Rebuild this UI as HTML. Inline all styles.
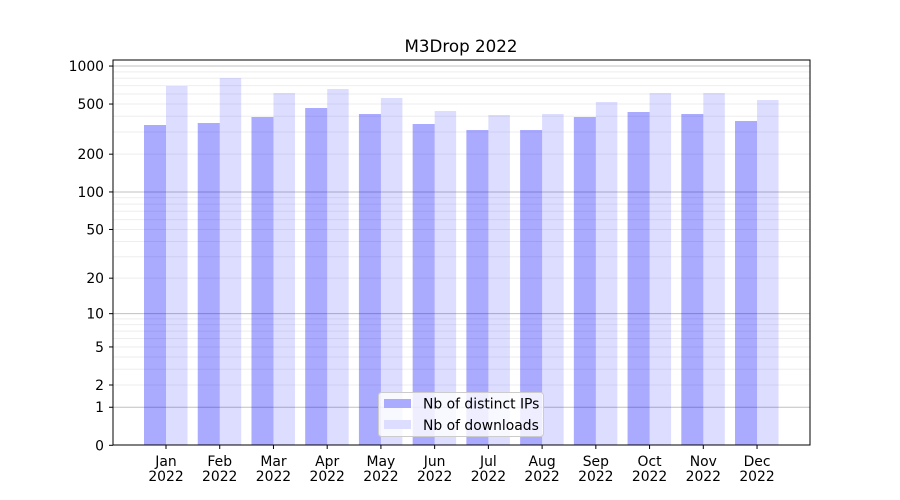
<!DOCTYPE html><html><head><meta charset="utf-8"><style>body{margin:0;background:#fff}svg{display:block;font-family:"DejaVu Sans","Liberation Sans",sans-serif}</style></head><body>
<svg id="s" width="900" height="500" xmlns="http://www.w3.org/2000/svg">
<rect width="900" height="500" fill="#fff"/>
<text x="461" y="52" font-size="16.7" text-anchor="middle" fill="#000">M3Drop 2022</text>
<g id="g"></g>
<g id="b"></g>
<rect x="113" y="60" width="697" height="385" fill="none" stroke="#000" stroke-width="1"/>
<g id="t" font-size="13.9" fill="#000"></g>
<rect x="378.5" y="392.5" width="165" height="44" rx="3" fill="#fff" fill-opacity="0.8" stroke="#ccc"/>
<rect x="384" y="399" width="27" height="9" fill="#aaaaff"/>
<rect x="384" y="420" width="27" height="9" fill="#ddddff"/>
<text x="423" y="408.5" font-size="13.9">Nb of distinct IPs</text>
<text x="423" y="430" font-size="13.9">Nb of downloads</text>
</svg>
<script>
const NS="http://www.w3.org/2000/svg";
function Y(v){return 445.3-126.4*Math.log10(1+v);}
function el(p,t,a,txt){const e=document.createElementNS(NS,t);for(const k in a)e.setAttribute(k,a[k]);if(txt!==undefined)e.textContent=txt;document.getElementById(p).appendChild(e);}
for(const d of [1,10,100]){for(let m=2;m<=9;m++){const y=Y(m*d);el('g','line',{x1:113,x2:810,y1:y,y2:y,stroke:'#eee','stroke-width':1});}}
for(const v of [1,10,100,1000]){const y=Y(v);el('g','line',{x1:113,x2:810,y1:y,y2:y,stroke:'#c0c0c0','stroke-width':1});}
const dark=[125,123,117,108,114,124,130,130,117,112,114,121];
const light=[86,78,93,89,98,111,115,114,102,93,93,100];
const mon=["Jan","Feb","Mar","Apr","May","Jun","Jul","Aug","Sep","Oct","Nov","Dec"];
for(let i=0;i<12;i++){const c=166+53.73*i;
el('b','rect',{x:c-22,y:dark[i],width:22,height:445-dark[i],fill:'#0000ff','fill-opacity':0.333});
el('b','rect',{x:c,y:light[i],width:21.5,height:445-light[i],fill:'#0000ff','fill-opacity':0.135});
el('t','line',{x1:c,x2:c,y1:445,y2:449,stroke:'#000'});
el('t','text',{x:c,y:466,'text-anchor':'middle'},mon[i]);
el('t','text',{x:c,y:481,'text-anchor':'middle'},'2022');}
for(const v of [0,1,2,5,10,20,50,100,200,500,1000]){const y=Y(v);
el('t','line',{x1:109,x2:113,y1:y,y2:y,stroke:'#000'});
el('t','text',{x:104,y:y+5,'text-anchor':'end'},String(v));}
</script>
</body></html>
